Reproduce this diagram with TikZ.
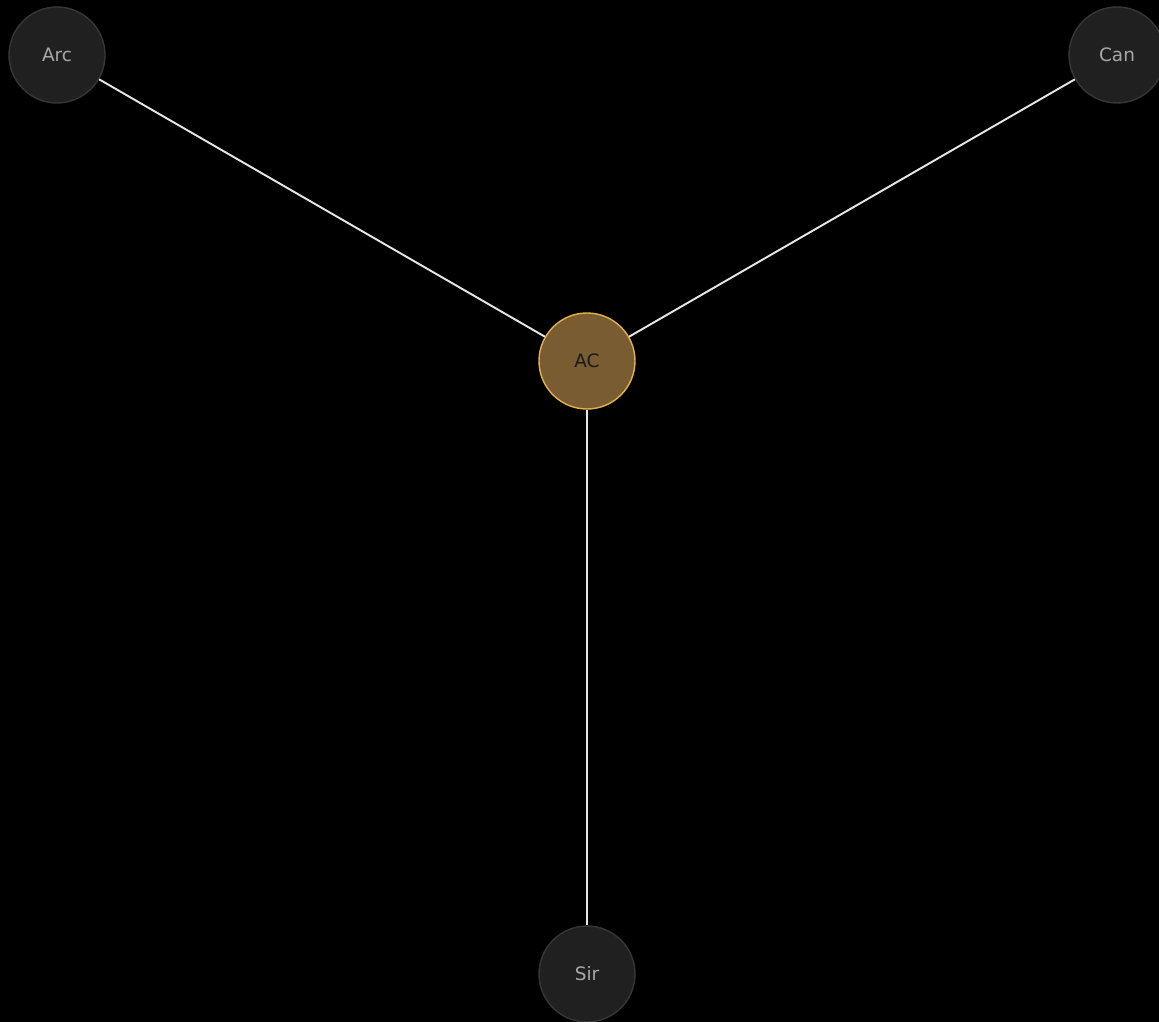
\documentclass[tikz,border=0pt]{standalone}
\usepackage{fontspec}
\setmainfont{DejaVu Sans}
\usepackage{xcolor}
\definecolor{ink}{HTML}{000000}
\definecolor{leaffill}{HTML}{202020}
\definecolor{leafedge}{HTML}{363636}
\definecolor{leaftext}{HTML}{A8A8A8}
\definecolor{hubfill}{HTML}{7A5C32}
\definecolor{hubedge}{HTML}{E2B24A}
\definecolor{hubtext}{HTML}{1A1A1A}
\definecolor{wire}{HTML}{E6E6E6}
\usetikzlibrary{positioning}
\tikzset{
  leaf/.style ={circle,draw=leafedge,fill=leaffill,line width=0.8pt,
                minimum size=19.2mm,inner sep=0pt,text=leaftext,
                font=\fontsize{10.5}{12}\selectfont},
  hub/.style  ={circle,draw=hubedge,fill=hubfill,line width=0.8pt,
                minimum size=19.2mm,inner sep=0pt,text=hubtext,
                font=\fontsize{10.5}{12}\selectfont},
  link/.style ={draw=wire,line width=1.1pt},
}

\begin{document}
\begin{tikzpicture}[x=1cm,y=1cm]
% background / frame
\fill[ink] (0,0) rectangle (23.18,-20.44);
\useasboundingbox (0,0) rectangle (23.18,-20.44);
% nodes
\node[hub]  (ac)  at (11.74,-7.22)  {AC};
\node[leaf] (arc) at (1.14,-1.10)   {Arc};
\node[leaf] (can) at (22.34,-1.10)  {Can};
\node[leaf] (sir) at (11.74,-19.48) {Sir};
% links
\draw[link] (ac) -- (arc);
\draw[link] (ac) -- (can);
\draw[link] (ac) -- (sir);
\end{tikzpicture}
\end{document}
